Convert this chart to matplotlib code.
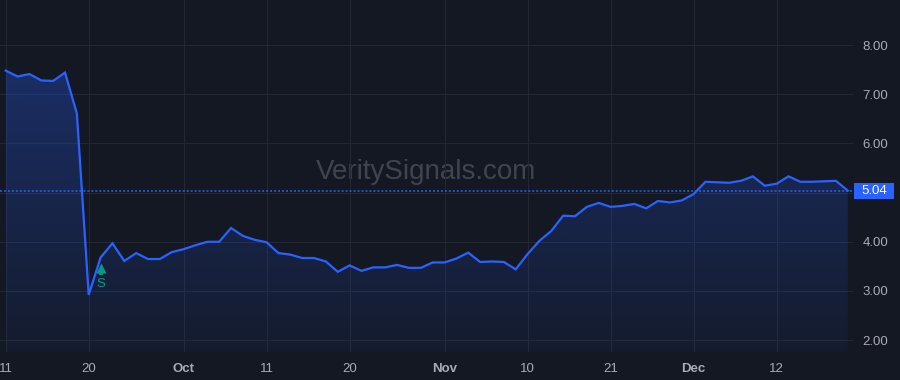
import matplotlib
matplotlib.use('Agg')
import matplotlib.pyplot as plt
import matplotlib.transforms as mtransforms
from matplotlib.patches import Rectangle
import numpy as np

# Daily closes, one per trading bar
prices = [7.48, 7.36, 7.41, 7.28, 7.27, 7.44, 6.61, 2.92, 3.68, 3.97,
          3.61, 3.77, 3.65, 3.65, 3.79, 3.85, 3.93, 4.00, 4.00, 4.28,
          4.12, 4.04, 3.99, 3.77, 3.74, 3.67, 3.67, 3.60, 3.39, 3.52,
          3.41, 3.48, 3.48, 3.53, 3.47, 3.47, 3.58, 3.58, 3.66, 3.78,
          3.59, 3.60, 3.59, 3.44, 3.75, 4.02, 4.22, 4.53, 4.52, 4.71,
          4.79, 4.71, 4.73, 4.77, 4.68, 4.83, 4.80, 4.84, 4.97, 5.22,
          5.21, 5.20, 5.24, 5.33, 5.14, 5.18, 5.33, 5.22, 5.22, 5.23,
          5.24, 5.04]

tick_pos = [0, 7, 15, 22, 29, 37, 44, 51, 58, 65]
tick_labels = ['11', '20', 'Oct', '11', '20', 'Nov', '10', '21', 'Dec', '12']
months = ['Oct', 'Nov', 'Dec']

y_ticks = [2, 3, 4, 5, 6, 7, 8]
signal_bar = 8          # bar with the "S" marker
signal_label = 'S'
last_price = prices[-1]
watermark = 'VeritySignals.com'

# Colours
bg = '#141823'
grid = '#232734'
line_blue = '#2962ff'
text_grey = '#a9acb5'
sig_green = '#089981'

plt.rcParams['font.family'] = ['Liberation Sans', 'DejaVu Sans']

fig = plt.figure(figsize=(9, 3.8), dpi=100, facecolor=bg)
ax = fig.add_axes([0, 28 / 380, 853 / 900, 352 / 380])
ax.set_facecolor(bg)

x = np.arange(len(prices))
y = np.array(prices)

ax.set_xlim(-0.48, 71.44)
ax.set_ylim(1.76, 8.915)

# Gradient area under the line
poly = ax.fill_between(x, y, 1.76, color='none', lw=0)
grad = np.linspace(0.30, 0.05, 256).reshape(-1, 1)
rgba = np.zeros((256, 1, 4))
rgba[..., 0] = 41 / 255
rgba[..., 1] = 98 / 255
rgba[..., 2] = 255 / 255
rgba[..., 3] = grad
img = ax.imshow(rgba, extent=[x[0], x[-1], 1.76, y.max()],
                aspect='auto', origin='upper', zorder=1)
img.set_clip_path(poly.get_paths()[0], transform=ax.transData)

ax.plot(x, y, color=line_blue, lw=1.6, zorder=3, solid_joinstyle='miter')

# Last price dotted line and label
ax.axhline(last_price, color=line_blue, lw=1.1, ls=(0, (1.3, 1.3)), zorder=2)
trans = mtransforms.blended_transform_factory(ax.transAxes, ax.transData)
ax.add_patch(Rectangle((1.0015, last_price - 0.165), 0.047, 0.33,
                       transform=trans, facecolor=line_blue, edgecolor='none',
                       clip_on=False, zorder=10))
ax.text(1.0015 + 0.0235, last_price, f'{last_price:.2f}', transform=trans,
        ha='center', va='center', color='white', fontsize=9.5, zorder=11,
        clip_on=False)

# Signal marker: small up arrow with stem, then the letter
sy = prices[signal_bar]
ax.plot([signal_bar, signal_bar], [sy - 0.24, sy - 0.36], color=sig_green,
        lw=2.6, solid_capstyle='butt', zorder=4)
ax.plot(signal_bar, sy - 0.21, marker='^', ms=6.5, color=sig_green,
        mec='none', zorder=4)
ax.text(signal_bar, sy - 0.53, signal_label, color=sig_green,
        ha='center', va='center', fontsize=9.5, zorder=4)

# Watermark
ax.text(0.4994, 0.511, watermark, transform=ax.transAxes, ha='center',
        va='center', fontsize=20, color='#40444f', zorder=0.5)

# Axes styling
ax.set_xticks(tick_pos)
ax.set_xticklabels(tick_labels)
for lbl in ax.get_xticklabels():
    if lbl.get_text() in months:
        lbl.set_fontweight('bold')
ax.set_yticks(y_ticks)
ax.set_yticklabels([f'{v:.2f}' if v != 5 else '' for v in y_ticks])
ax.yaxis.tick_right()
ax.tick_params(axis='both', length=0, colors=text_grey, labelsize=9.5)
ax.tick_params(axis='y', pad=7)
ax.tick_params(axis='x', pad=8)
ax.grid(True, color=grid, lw=0.8, zorder=0)
ax.set_axisbelow(True)
for s in ax.spines.values():
    s.set_visible(False)

fig.savefig('out.png', dpi=100, facecolor=bg)
